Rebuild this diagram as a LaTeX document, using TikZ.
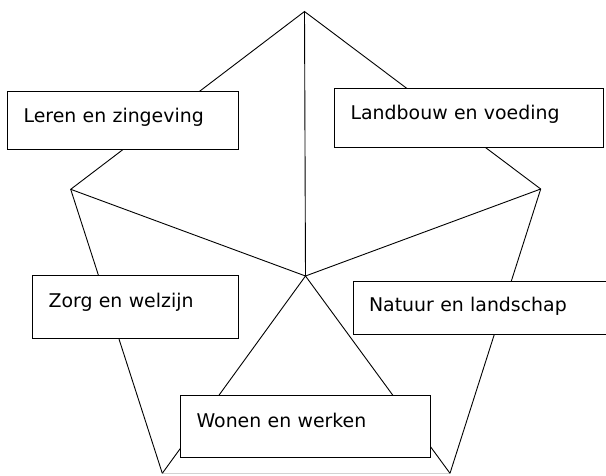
\documentclass[tikz,border=0pt]{standalone}
\usepackage{fontspec}
\setmainfont{DejaVu Sans}

\begin{document}
\begin{tikzpicture}[x=1pt,y=-1pt,
    edge/.style={line width=0.9pt},
    box/.style n args={3}{draw,fill=white,line width=1.2pt,anchor=north west,
      inner xsep=16pt,inner ysep=0pt,align=left,text width=#1,
      text height=#2,text depth=#3,font=\fontsize{18.9}{22}\selectfont}]

% fix the page size
\useasboundingbox (0,0) rectangle (606,475);
\clip (0,0) rectangle (606,475);

% corners of the star
\coordinate (c) at (305.5,276);
\coordinate (t) at (304.5,11.5);
\coordinate (l) at (70.7,189.3);
\coordinate (r) at (540.7,189);
\coordinate (bl) at (162.3,473.3);
\coordinate (br) at (450,473.3);

% outer edges
\draw[edge] (bl) -- (l) -- (t) -- (r) -- (br);
\draw[gray!35] (bl) -- (br);
% spokes from the centre
\foreach \v in {t,l,r,bl,br}
  \draw[edge] (c) -- (\v);

% the five labels
\node[box={199pt}{31pt}{26.5pt}] (leren) at (7,91) {Leren en zingeving};
\node[box={237pt}{31pt}{28pt}] (landbouw) at (334,87.5) {Landbouw en voeding};
\node[box={174pt}{32pt}{31pt}] (zorg) at (32,275) {Zorg en welzijn};
\node[box={228pt}{30pt}{23pt}] (natuur) at (352.5,281) {Natuur en landschap};
\node[box={218pt}{32pt}{29.5pt}] (wonen) at (180,395) {Wonen en werken};

\end{tikzpicture}
\end{document}
